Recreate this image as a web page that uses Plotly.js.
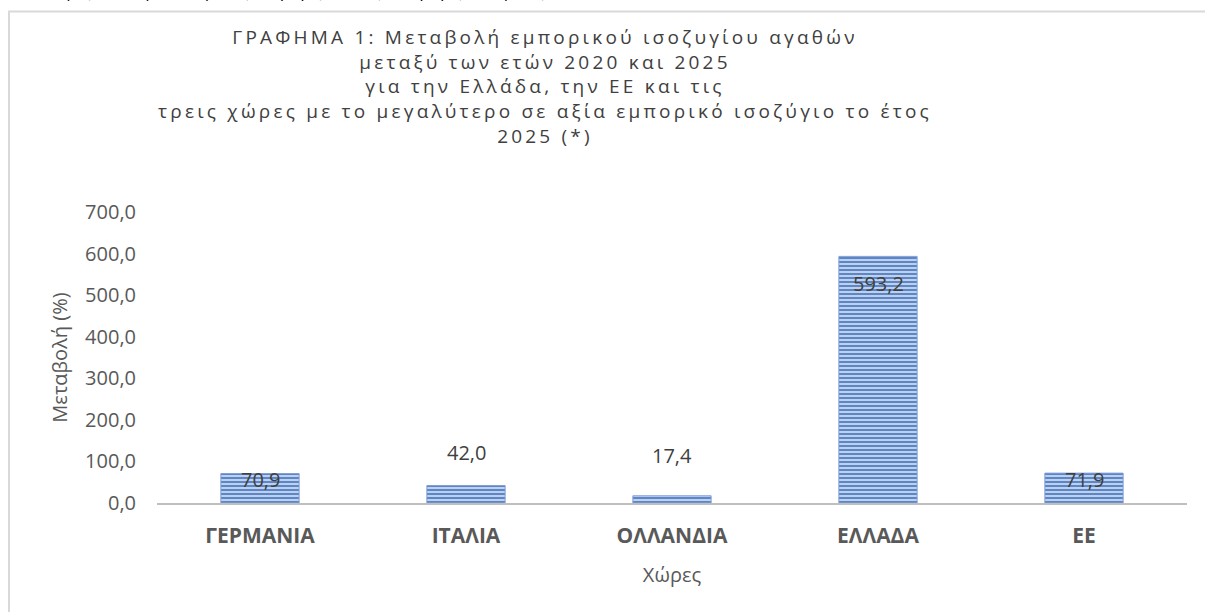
<!DOCTYPE html>
<html>
<head>
<meta charset="utf-8">
<script src="https://cdn.plot.ly/plotly-3.0.1.min.js"></script>
<style>
  html, body { margin: 0; padding: 0; background: #fff; }
  #chart { width: 1205px; height: 612px; }
  .gtitle { letter-spacing: 3.2px; }
</style>
</head>
<body>
<div id="chart"></div>
<script>
// ---- Data ----
const countries = ["ΓΕΡΜΑΝΙΑ", "ΙΤΑΛΙΑ", "ΟΛΛΑΝΔΙΑ", "ΕΛΛΑΔΑ", "ΕΕ"];
const changePct = [70.9, 42.0, 17.4, 593.2, 71.9];
const yTickValues = [0, 100, 200, 300, 400, 500, 600, 700];

const titleLines = [
  "ΓΡΑΦΗΜΑ 1: Μεταβολή εμπορικού ισοζυγίου αγαθών",
  "μεταξύ των ετών 2020 και 2025",
  "για την Ελλάδα, την ΕΕ και τις",
  "τρεις χώρες με το μεγαλύτερο σε αξία εμπορικό ισοζύγιο το έτος",
  "2025 (*)"
];
const topCutText = "καθαρές, και περισσότερα τις εξαγωγές από τις εισαγωγές από φέτος από)";

// ---- Layout geometry (pixels) ----
const W = 1205, H = 612;
const M = { l: 157, r: 18, t: 212, b: 109 };
const PW = W - M.l - M.r, PH = H - M.t - M.b;
const px2x = px => (px - M.l) / PW;
const py2y = py => (H - M.b - py) / PH;

const fmt = v => v.toFixed(1).replace(".", ",");
const FONT = "Open Sans, Noto Sans, sans-serif";

// label offsets (style): pixels relative to bar top
const labelShift = [-6, 33, 40, -27, -6];

const trace = {
  type: "bar",
  x: countries,
  y: changePct,
  marker: {
    color: "#b4c7e7",
    line: { color: "#7f9fd6", width: 1 },
    pattern: { shape: "-", fgcolor: "#5b87c9", bgcolor: "#c9d8ef", size: 4, solidity: 0.55, fillmode: "replace" }
  },
  hoverinfo: "skip",
  showlegend: false
};

const annotations = countries.map((c, i) => ({
  x: c, y: changePct[i], xref: "x", yref: "y",
  text: fmt(changePct[i]), showarrow: false,
  yanchor: "middle", yshift: labelShift[i],
  font: { family: FONT, size: 20, color: "#404040" }
}));

annotations.push({
  xref: "paper", yref: "paper",
  x: px2x(27), y: py2y(4), xanchor: "left", yanchor: "bottom",
  text: topCutText, showarrow: false,
  font: { family: FONT, size: 16, color: "#000" }
});

const layout = {
  width: W, height: H,
  margin: M,
  paper_bgcolor: "#fff",
  plot_bgcolor: "#fff",
  bargap: 0.62,
  font: { family: FONT, color: "#595959" },
  title: {
    text: titleLines.join("<br>"),
    xref: "container", yref: "container",
    x: 545 / W, xanchor: "center",
    y: 1 - 44 / H, yanchor: "top",
    font: { family: FONT, size: 19, color: "#404040" }
  },
  xaxis: {
    type: "category",
    showgrid: false, zeroline: false,
    showline: true, linecolor: "#bfbfbf", linewidth: 2,
    ticks: "", ticklabelstandoff: 13,
    tickfont: { family: FONT, size: 21, color: "#595959", weight: "bold" },
    title: { text: "Χώρες", standoff: 20, font: { family: FONT, size: 20, color: "#595959" } },
    automargin: false
  },
  yaxis: {
    range: [0, 700],
    tickvals: yTickValues,
    ticktext: yTickValues.map(fmt),
    showgrid: false, zeroline: false, showline: false,
    ticks: "", ticklabelstandoff: 20,
    tickfont: { family: FONT, size: 20, color: "#595959" },
    title: { text: "Μεταβολή (%)", standoff: 12, font: { family: FONT, size: 20, color: "#595959" } },
    automargin: false
  },
  shapes: [{
    type: "rect", xref: "paper", yref: "paper",
    x0: px2x(9), x1: px2x(1212), y0: py2y(625), y1: py2y(11.5),
    line: { color: "#d9d9d9", width: 2 }, fillcolor: "rgba(0,0,0,0)", layer: "below"
  }],
  annotations: annotations
};

Plotly.newPlot("chart", [trace], layout, { staticPlot: true, displayModeBar: false });
</script>
</body>
</html>
